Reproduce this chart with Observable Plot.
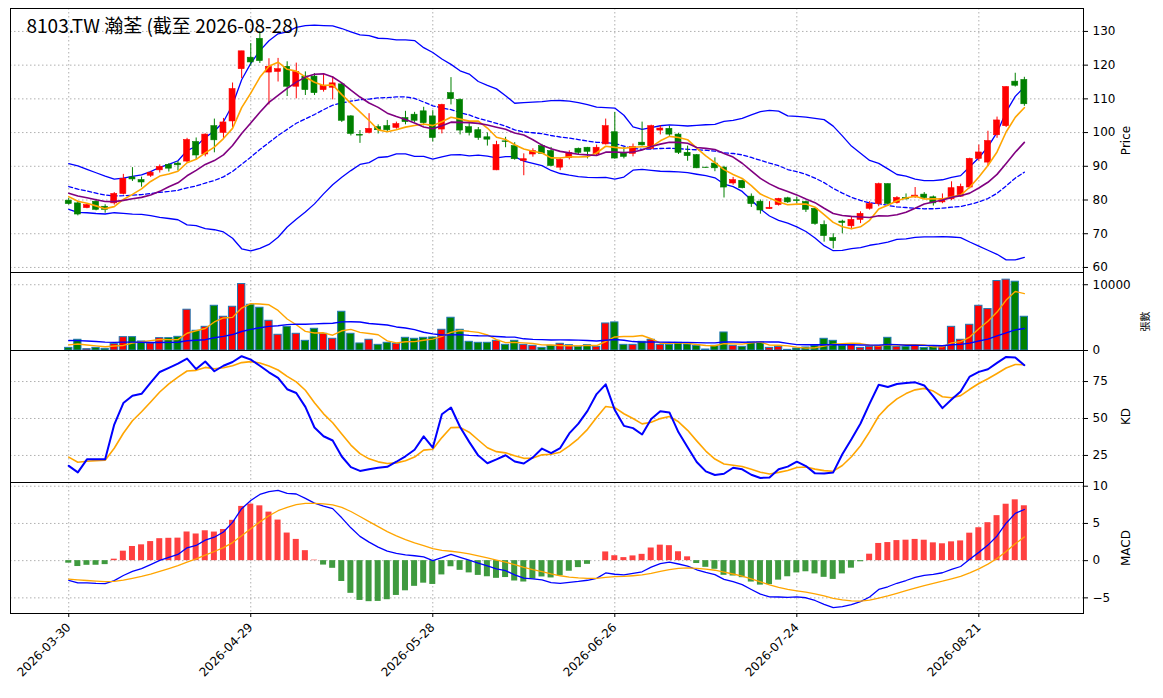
<!DOCTYPE html>
<html><head><meta charset="utf-8">
<script src="https://cdn.jsdelivr.net/npm/d3@7"></script>
<script src="https://cdn.jsdelivr.net/npm/@observablehq/plot@0.6"></script>
<style>
body{margin:0;background:#fff;}
#c svg{display:block;}
</style></head>
<body><div id="c"></div>
<script>
const title = "8103.TW 瀚荃 (截至 2026-08-28)";
const tickIndex = [0,20,40,60,80,100];
const tickLabels = ["2026-03-30","2026-04-29","2026-05-28","2026-06-26","2026-07-24","2026-08-21"];
// estimated history before the first visible bar (for indicator warm-up)
const preClose = [93,92.5,93,92,92.5,91.5,92,91,91.5,91, 91,90,89.5,88.5,87,85,83,81.5,82.5,82, 84,83.5,83,82.5,82, 82.5,81.5,81.0,81.2];
const preVol = [2000,1500,1800,2200,1600,1400,1900,1700,2100,1500,1600,1800,1700,1600,1700,1000,900,1100,900];
const open = [79.8,79.0,77.6,79.5,78.0,79.0,81.8,86.7,85.9,87.2,88.8,90.4,90.8,91.4,97.2,93.5,101.9,99.9,103.3,118.8,
122.2,127.8,117.8,118.0,119.5,113.6,116.6,116.6,112.6,113.3,114.3,104.8,99.3,99.9,101.6,101.9,101.4,104.3,105.3,106.3,
104.8,100.9,111.7,109.7,101.6,100.7,98.6,88.8,97.4,96.0,91.6,93.5,96.0,94.5,89.6,92.4,95.2,95.5,93.5,96.5,
100.1,94.0,93.7,97.0,95.2,100.6,101.1,99.4,94.0,93.3,89.6,90.8,89.6,84.9,85.7,81.0,79.5,77.3,78.5,80.5,
79.9,79.4,77.4,72.6,68.7,73.6,72.2,74.1,77.4,78.8,84.7,79.1,80.6,80.8,81.6,80.8,79.3,80.2,81.0,83.7,
92.2,91.1,99.2,101.9,115.1,115.6];
const close = [78.8,75.7,78.5,77.1,77.1,81.8,86.3,86.1,85.2,88.1,89.8,89.3,90.3,97.8,93.2,99.4,97.7,103.0,112.9,124.1,
120.8,121.2,119.5,118.8,113.6,118.0,112.6,111.7,113.9,114.6,103.5,99.6,99.1,101.1,100.7,100.7,102.5,103.1,103.5,102.8,
98.4,108.2,109.9,100.6,99.9,98.4,97.9,96.3,97.2,92.1,92.1,94.5,93.7,90.1,91.9,94.0,94.0,94.3,95.5,101.9,
92.3,92.8,95.7,96.2,101.9,101.2,99.4,94.0,93.0,89.4,89.5,89.4,83.7,85.9,83.5,78.8,76.9,77.7,80.3,79.3,
79.7,77.1,72.9,69.3,67.8,73.2,74.1,75.9,78.8,84.7,78.8,80.6,80.2,81.3,80.6,79.0,80.3,83.5,83.9,92.2,
94.1,97.5,103.6,113.5,113.9,108.4];
const high = [80.5,79.5,78.7,80.2,78.6,82.2,87.6,89.6,86.8,88.5,90.4,90.8,91.4,98.3,98.4,99.6,104.0,104.2,114.7,124.1,
126.4,130.0,121.9,122.0,121.0,120.6,118.0,117.5,117.5,116.6,114.6,105.0,100.6,105.6,102.3,103.6,103.1,106.3,106.0,107.5,
106.5,108.4,116.3,110.0,102.8,101.5,99.9,97.4,98.6,97.0,93.7,95.2,96.5,95.6,92.4,94.6,95.4,95.6,96.3,104.0,
106.0,95.6,96.6,103.1,102.2,102.0,101.9,99.7,96.0,93.5,89.7,92.5,90.0,86.7,85.9,81.8,80.0,79.5,80.5,80.8,
80.8,79.7,77.6,73.8,70.0,74.0,75.0,76.5,79.5,85.0,84.8,81.0,81.8,83.7,82.2,81.2,81.8,85.4,84.7,92.4,
96.3,100.4,104.6,113.6,117.6,116.4];
const low = [78.5,75.3,77.4,76.8,76.1,78.5,81.5,85.5,83.8,86.7,88.0,88.3,88.6,91.0,92.0,92.8,94.0,98.2,101.5,116.0,
119.7,120.5,108.2,115.0,110.7,110.0,111.0,111.0,112.0,109.7,103.0,99.0,96.8,99.6,99.6,100.2,101.0,102.3,103.0,102.0,
97.2,99.6,108.2,99.3,99.0,97.7,96.0,88.7,95.5,91.8,87.2,92.7,93.5,89.9,88.7,91.9,93.5,92.2,93.0,96.3,
92.1,92.2,92.8,96.0,94.9,99.3,98.7,93.5,91.5,89.3,89.4,88.4,80.6,84.4,83.3,77.8,75.8,77.2,78.2,79.0,
78.8,76.3,72.5,67.5,65.5,70.0,71.2,73.0,77.0,78.0,78.5,78.8,80.0,80.5,80.2,78.2,78.9,79.8,80.8,83.3,
91.5,89.9,98.3,101.5,113.5,107.8];
const volume = [400,1630,200,400,250,970,2030,2030,1370,1070,1880,1880,2080,6200,3000,3600,6800,5130,6650,10100,
6960,6500,4520,2390,3600,2540,1470,3300,2540,1780,5890,2540,1070,1630,860,1170,1020,1930,1780,1930,
1980,3150,4980,3150,1320,1170,1170,1470,860,1470,860,710,400,710,1020,810,560,810,560,4110,
4270,860,860,1320,1630,860,860,1170,910,710,150,710,2740,710,560,1220,1220,400,560,100,
300,460,710,1780,1470,710,910,400,560,710,1930,560,560,710,400,560,560,3600,1630,3910,
6800,6300,10560,10770,10460,5130];

// ---- indicators computed from the series ----
const P = preClose.length;
const allC = preClose.concat(close);
const allH = preClose.map(v=>v+0.8).concat(high);
const allL = preClose.map(v=>v-0.8).concat(low);
const allV = new Array(P - preVol.length).fill(preVol[0]).concat(preVol, volume);
const sma = (a,n,j)=>d3.mean(a.slice(Math.max(0,j-n+1), j+1));
const sd = (a,n,j)=>d3.deviation(a.slice(Math.max(0,j-n+1), j+1)) || 0;
function ema(a, n){const k=2/(n+1); const out=[]; a.forEach((v,i)=>out.push(i? out[i-1]+(v-out[i-1])*k : v)); return out;}
const e12 = ema(allC,12), e26 = ema(allC,26);
const dif = allC.map((v,i)=>e12[i]-e26[i]);
const dea = ema(dif,9);
let K=50, D=50; const KK=[], DD=[];
allC.forEach((c,j)=>{
  const hh=d3.max(allH.slice(Math.max(0,j-8),j+1)), ll=d3.min(allL.slice(Math.max(0,j-8),j+1));
  const rsv = hh>ll ? (c-ll)/(hh-ll)*100 : 50;
  K = 2/3*K + rsv/3; D = 2/3*D + K/3; KK.push(K); DD.push(D);
});
const data = close.map((c,i)=>{
  const j=i+P, m20=sma(allC,20,j), s=sd(allC,20,j);
  return {i, o:open[i], c, h:high[i], l:low[i], v:volume[i], up:c>=open[i],
    ma5:sma(allC,5,j), ma10:sma(allC,10,j), ma20:m20, bu:m20+2*s, bl:m20-2*s,
    vm5:sma(allV,5,j), vm20:sma(allV,20,j), k:KK[j], d:DD[j],
    dif:dif[j], dea:dea[j], hist:2*(dif[j]-dea[j])};
});

const W=1163, ML=10, MR=80, XD=[-6.4,111.5];
const FONT="DejaVu Sans";
const grid = (ticks)=>[
  Plot.gridX(tickIndex,{stroke:"#b0b0b0",strokeOpacity:1,strokeDasharray:"1.5,2.5"}),
  Plot.gridY(ticks,{stroke:"#b0b0b0",strokeOpacity:1,strokeDasharray:"1.5,2.5"})
];
const yaxis = (ticks,label,fmt)=>Plot.axisY(ticks,{anchor:"right",label,labelAnchor:"center",labelArrow:"none",labelOffset:46,fontSize:12,tickSize:4,tickFormat:fmt});
const base = (h,mt,mb,ydom)=>({width:W,height:h,marginLeft:ML,marginRight:MR,marginTop:mt,marginBottom:mb,
  x:{domain:XD,axis:null},y:{domain:ydom},style:{fontFamily:FONT,fontSize:"12px",background:"#fff",overflow:"visible"}});
const upc = d=>d.up?"#ff0000":"#008000";

const priceTicks=[60,70,80,90,100,110,120,130];
const p1 = Plot.plot({...base(272,8,0,[58.5,136.8]), marks:[
  ...grid(priceTicks),
  Plot.line(data,{x:"i",y:"bu",stroke:"#0000ff",strokeWidth:1.3}),
  Plot.line(data,{x:"i",y:"bl",stroke:"#0000ff",strokeWidth:1.3}),
  Plot.line(data,{x:"i",y:"ma20",stroke:"#0000ff",strokeWidth:1.3,strokeDasharray:"4,2.5"}),
  Plot.ruleX(data,{x:"i",y1:"l",y2:"h",stroke:upc,strokeWidth:1}),
  Plot.rect(data,{x1:d=>d.i-0.33,x2:d=>d.i+0.33,y1:"o",y2:"c",fill:upc,stroke:upc,strokeWidth:0.6}),
  Plot.line(data,{x:"i",y:"ma5",stroke:"#ffa500",strokeWidth:1.6}),
  Plot.line(data,{x:"i",y:"ma10",stroke:"#800080",strokeWidth:1.6}),
  Plot.frame({stroke:"black"}),
  yaxis(priceTicks,"Price"),
  Plot.text([title],{frameAnchor:"top-left",dx:16,dy:11,fontSize:19,fontFamily:"Noto Sans CJK TC",fill:"black"})
]});
const volTicks=[0,10000];
const p2 = Plot.plot({...base(78,0,0,[0,11860]), marks:[
  ...grid(volTicks),
  Plot.rect(data,{x1:d=>d.i-0.4,x2:d=>d.i+0.4,y1:0,y2:"v",fill:upc,stroke:"#1f77b4",strokeWidth:1}),
  Plot.line(data,{x:"i",y:"vm5",stroke:"#ffa500",strokeWidth:1.4}),
  Plot.line(data,{x:"i",y:"vm20",stroke:"#0000ff",strokeWidth:1.4}),
  Plot.frame({stroke:"black"}),
  Plot.axisY(volTicks,{anchor:"right",label:null,fontSize:12,tickSize:4,tickFormat:d=>String(d)}),
  Plot.text(["張數"],{frameAnchor:"right",dx:62,rotate:-90,fontSize:10,fontFamily:"Noto Sans CJK TC",fill:"black"})
]});
const kdTicks=[25,50,75];
const p3 = Plot.plot({...base(132,0,0,[6.7,96]), marks:[
  ...grid(kdTicks),
  Plot.line(data,{x:"i",y:"d",stroke:"#ffa500",strokeWidth:1.6}),
  Plot.line(data,{x:"i",y:"k",stroke:"#0000ff",strokeWidth:2}),
  Plot.frame({stroke:"black"}),
  yaxis(kdTicks,"KD")
]});
const mTicks=[-5,0,5,10];
const p4 = Plot.plot({...base(216,0,85,[-7.1,10.5]), marks:[
  ...grid(mTicks),
  Plot.rect(data,{x1:d=>d.i-0.33,x2:d=>d.i+0.33,y1:0,y2:"hist",fill:d=>d.hist>=0?"#ff4040":"#3f9a3f"}),
  Plot.line(data,{x:"i",y:"dif",stroke:"#0000ff",strokeWidth:1.3}),
  Plot.line(data,{x:"i",y:"dea",stroke:"#ffa500",strokeWidth:1.3}),
  Plot.frame({stroke:"black"}),
  yaxis(mTicks,"MACD"),
  Plot.axisX(tickIndex,{tickFormat:(d,k)=>tickLabels[k],tickRotate:-45,fontSize:12,tickSize:4,label:null})
]});
const c=document.getElementById("c");
[p1,p2,p3,p4].forEach(p=>c.appendChild(p));
</script></body></html>
